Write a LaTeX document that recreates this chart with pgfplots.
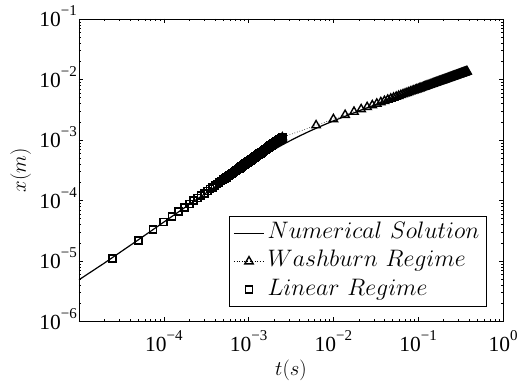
\documentclass[border=0pt]{standalone}
\usepackage[no-math]{fontspec}
\setmainfont{Liberation Serif}
\usepackage{graphicx}
\usepackage{pgfplots}
\usepackage{pgfplotstable}
\pgfplotsset{compat=1.18}

% power-of-ten tick label set in the text font
\newcommand{\ep}[1]{10\raisebox{0.5em}{\fontsize{15}{15}\selectfont #1}}
% legend entry in math italic, slightly reduced
\newcommand{\legtext}[1]{\scalebox{0.958}{$#1$}}

% legend samples, 30pt long
\pgfplotsset{
  legline/.style={legend image code/.code={\draw[##1] (0pt,0pt) -- (30pt,0pt);}},
  legmarkline/.style={legend image code/.code={\draw[mark repeat=2, mark phase=2, ##1] plot coordinates {(0pt,0pt) (15pt,0pt) (30pt,0pt)};}},
  legmark/.style={legend image code/.code={\draw[##1] plot coordinates {(15pt,0pt)};}},
}

% numerical solution of the rise, x(t)
\pgfplotstableread{
t        x
1e-5     4.894e-6
2e-5     9.277e-6
5e-5     2.236e-5
1e-4     4.393e-5
2e-4     8.624e-5
4e-4     1.677e-4
6e-4     2.451e-4
8e-4     3.189e-4
1e-3     3.893e-4
1.25e-3  4.729e-4
1.5e-3   5.520e-4
2e-3     6.983e-4
2.5e-3   8.311e-4
3e-3     9.525e-4
4e-3     1.168e-3
5e-3     1.356e-3
6e-3     1.5235e-3
8e-3     1.815e-3
1e-2     2.0665e-3
1.5e-2   2.591e-3
2e-2     3.026e-3
3e-2     3.747e-3
5e-2     4.880e-3
0.1      6.945e-3
0.2      9.853e-3
0.3775   1.3556e-2
}\numsol

% Washburn regime, x ~ sqrt(t)
\pgfplotstableread{
t        x
0.0025   1.1050e-3
0.00625  1.7472e-3
0.01     2.2100e-3
0.01375  2.5914e-3
0.0175   2.9236e-3
0.02125  3.2216e-3
0.025    3.4943e-3
0.02875  3.7472e-3
0.0325   3.9841e-3
0.03625  4.2077e-3
0.04     4.4200e-3
0.04375  4.6225e-3
0.0475   4.8166e-3
0.05125  5.0031e-3
0.055    5.1829e-3
0.05875  5.3567e-3
0.0625   5.5250e-3
0.06625  5.6883e-3
0.07     5.8471e-3
0.07375  6.0017e-3
0.0775   6.1524e-3
0.08125  6.2995e-3
0.085    6.4432e-3
0.08875  6.5838e-3
0.0925   6.7215e-3
0.09625  6.8563e-3
0.1      6.9886e-3
0.10375  7.1185e-3
0.1075   7.2460e-3
0.11125  7.3713e-3
0.115    7.4945e-3
0.11875  7.6157e-3
0.1225   7.7350e-3
0.12625  7.8525e-3
0.13     7.9683e-3
0.13375  8.0824e-3
0.1375   8.1949e-3
0.14125  8.3059e-3
0.145    8.4154e-3
0.14875  8.5235e-3
0.1525   8.6303e-3
0.15625  8.7358e-3
0.16     8.8400e-3
0.16375  8.9430e-3
0.1675   9.0448e-3
0.17125  9.1455e-3
0.175    9.2451e-3
0.17875  9.3436e-3
0.1825   9.4411e-3
0.18625  9.5376e-3
0.19     9.6332e-3
0.19375  9.7278e-3
0.1975   9.8215e-3
0.20125  9.9143e-3
0.205    1.00062e-2
0.20875  1.00973e-2
0.2125   1.01876e-2
0.21625  1.02771e-2
0.22     1.03658e-2
0.22375  1.04538e-2
0.2275   1.05410e-2
0.23125  1.06275e-2
0.235    1.07134e-2
0.23875  1.07985e-2
0.2425   1.08830e-2
0.24625  1.09668e-2
0.25     1.10500e-2
0.25375  1.11326e-2
0.2575   1.12145e-2
0.26125  1.12959e-2
0.265    1.13767e-2
0.26875  1.14569e-2
0.2725   1.15365e-2
0.27625  1.16156e-2
0.28     1.16942e-2
0.28375  1.17723e-2
0.2875   1.18498e-2
0.29125  1.19268e-2
0.295    1.20034e-2
0.29875  1.20794e-2
0.3025   1.21550e-2
0.30625  1.22301e-2
0.31     1.23048e-2
0.31375  1.23790e-2
0.3175   1.24527e-2
0.32125  1.25261e-2
0.325    1.25990e-2
0.32875  1.26714e-2
0.3325   1.27435e-2
0.33625  1.28152e-2
0.34     1.28864e-2
0.34375  1.29573e-2
0.3475   1.30278e-2
0.35125  1.30979e-2
0.355    1.31676e-2
0.35875  1.32370e-2
0.3625   1.33060e-2
0.36625  1.33746e-2
0.37     1.34429e-2
0.37375  1.35109e-2
0.3775   1.35785e-2
}\washburn

% linear regime, x ~ t
\pgfplotstableread{
t         x
2.5e-5    1.1e-5
5.0e-5    2.2e-5
7.5e-5    3.3e-5
1.0e-4    4.4e-5
1.25e-4   5.5e-5
1.5e-4    6.6e-5
1.75e-4   7.7e-5
2.0e-4    8.8e-5
2.25e-4   9.9e-5
2.5e-4    1.10e-4
2.75e-4   1.21e-4
3.0e-4    1.32e-4
3.25e-4   1.43e-4
3.5e-4    1.54e-4
3.75e-4   1.65e-4
4.0e-4    1.76e-4
4.25e-4   1.87e-4
4.5e-4    1.98e-4
4.75e-4   2.09e-4
5.0e-4    2.20e-4
5.25e-4   2.31e-4
5.5e-4    2.42e-4
5.75e-4   2.53e-4
6.0e-4    2.64e-4
6.25e-4   2.75e-4
6.5e-4    2.86e-4
6.75e-4   2.97e-4
7.0e-4    3.08e-4
7.25e-4   3.19e-4
7.5e-4    3.30e-4
7.75e-4   3.41e-4
8.0e-4    3.52e-4
8.25e-4   3.63e-4
8.5e-4    3.74e-4
8.75e-4   3.85e-4
9.0e-4    3.96e-4
9.25e-4   4.07e-4
9.5e-4    4.18e-4
9.75e-4   4.29e-4
1.0e-3    4.40e-4
1.025e-3  4.51e-4
1.05e-3   4.62e-4
1.075e-3  4.73e-4
1.1e-3    4.84e-4
1.125e-3  4.95e-4
1.15e-3   5.06e-4
1.175e-3  5.17e-4
1.2e-3    5.28e-4
1.225e-3  5.39e-4
1.25e-3   5.50e-4
1.275e-3  5.61e-4
1.3e-3    5.72e-4
1.325e-3  5.83e-4
1.35e-3   5.94e-4
1.375e-3  6.05e-4
1.4e-3    6.16e-4
1.425e-3  6.27e-4
1.45e-3   6.38e-4
1.475e-3  6.49e-4
1.5e-3    6.60e-4
1.525e-3  6.71e-4
1.55e-3   6.82e-4
1.575e-3  6.93e-4
1.6e-3    7.04e-4
1.625e-3  7.15e-4
1.65e-3   7.26e-4
1.675e-3  7.37e-4
1.7e-3    7.48e-4
1.725e-3  7.59e-4
1.75e-3   7.70e-4
1.775e-3  7.81e-4
1.8e-3    7.92e-4
1.825e-3  8.03e-4
1.85e-3   8.14e-4
1.875e-3  8.25e-4
1.9e-3    8.36e-4
1.925e-3  8.47e-4
1.95e-3   8.58e-4
1.975e-3  8.69e-4
2.0e-3    8.80e-4
2.025e-3  8.91e-4
2.05e-3   9.02e-4
2.075e-3  9.13e-4
2.1e-3    9.24e-4
2.125e-3  9.35e-4
2.15e-3   9.46e-4
2.175e-3  9.57e-4
2.2e-3    9.68e-4
2.225e-3  9.79e-4
2.25e-3   9.90e-4
2.275e-3  1.001e-3
2.3e-3    1.012e-3
2.325e-3  1.023e-3
2.35e-3   1.034e-3
2.375e-3  1.045e-3
2.4e-3    1.056e-3
2.425e-3  1.067e-3
2.45e-3   1.078e-3
2.475e-3  1.089e-3
2.5e-3    1.100e-3
}\linreg

\begin{document}
\begin{tikzpicture}
\begin{axis}[
  at={(0,0)}, anchor=south west,
  scale only axis, width=424pt, height=302.5pt,
  xmode=log, ymode=log,
  xmin=1e-5, xmax=1, ymin=1e-6, ymax=1e-1,
  axis line style={line width=0.8pt},
  tick align=inside,
  every tick/.style={black, line width=0.5pt},
  major tick length=4.5pt, minor tick length=2.5pt,
  xtick={1e-5,1e-4,1e-3,1e-2,1e-1,1},
  xticklabels={,\ep{−4},\ep{−3},\ep{−2},\ep{−1},\ep{0}},
  ytick={1e-6,1e-5,1e-4,1e-3,1e-2,1e-1},
  yticklabels={\ep{−6},\ep{−5},\ep{−4},\ep{−3},\ep{−2},\ep{−1}},
  ticklabel style={font=\fontsize{21.5}{25}\selectfont},
  xticklabel style={anchor=base, inner sep=0pt, yshift=-30pt},
  yticklabel style={anchor=base east, inner sep=0pt, xshift=-2pt, yshift=-7.5pt},
  xlabel={$t(s)$}, ylabel={$x(m)$},
  every axis x label/.style={at={(axis description cs:0.5,0)}, anchor=base, yshift=-53.5pt, font=\fontsize{22}{26}\selectfont},
  every axis y label/.style={at={(axis description cs:0,0.5)}, rotate=90, anchor=base, yshift=53pt, font=\fontsize{22}{26}\selectfont},
  legend style={at={(1,0)}, anchor=south east, xshift=-16pt, yshift=14.7pt,
    draw=black, line width=0.8pt, fill=white,
    font=\fontsize{24.88}{28}\selectfont,
    nodes={inner sep=0pt, text height=17pt, text depth=6pt},
    row sep=5.3pt, column sep=3pt,
    inner xsep=4pt, inner ysep=5.2pt,
    /tikz/column 2/.style={text width=215pt, align=left},
    legend cell align=left},
]
\addplot[black, line width=1.2pt, no markers, legline]
  table[x=t, y=x] {\numsol};
\addlegendentry{\legtext{Numerical\ Solution}}
\addplot[black, line width=0.6pt, dotted,
  mark=triangle, mark size=4.8pt,
  mark options={solid, line width=1.4pt, fill=none}, legmarkline]
  table[x=t, y=x] {\washburn};
\addlegendentry{\legtext{Washburn\ Regime}}
\addplot[black, only marks,
  mark=square, mark size=3.5pt,
  mark options={line width=1.6pt, fill=none}, legmark]
  table[x=t, y=x] {\linreg};
\addlegendentry{\legtext{Linear\ Regime}}
\end{axis}
\pgfresetboundingbox
\useasboundingbox (-79pt,-63.5pt) rectangle (439pt,321.5pt);
\end{tikzpicture}
\end{document}
